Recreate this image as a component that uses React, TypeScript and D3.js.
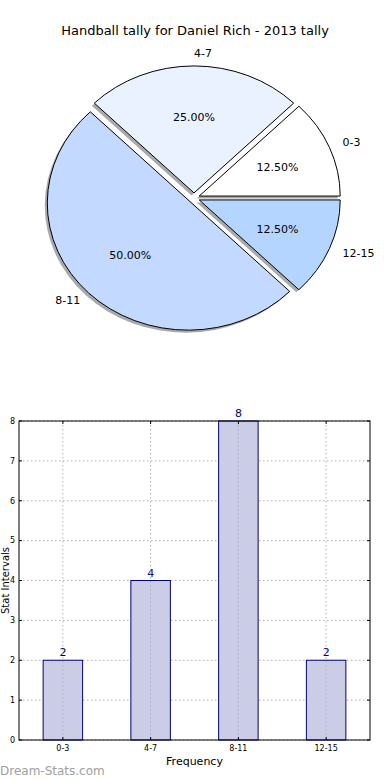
import React from 'react';
import * as d3 from 'd3';

// tally data
const categories = ['0-3', '4-7', '8-11', '12-15'];
const counts = [2, 4, 8, 2];
const sliceColors = ['#ffffff', '#ebf2ff', '#c4d9ff', '#b3d5ff'];
const yTicks = [0, 1, 2, 3, 4, 5, 6, 7, 8];

const W = 390;
const H = 780;
const font = 'DejaVu Sans, sans-serif';

// pie geometry (matplotlib style: starts at 3 o'clock, counter clockwise, elliptic)
const pieCx = 194;
const pieCy = 198;
const rx = 141;
const ry = 127;
const explode = 0.04;

function Pie() {
    const total = d3.sum(counts);
    const pie = d3.pie<number>()
        .sort(null)
        .startAngle(Math.PI / 2)
        .endAngle(Math.PI / 2 - 2 * Math.PI);
    const arcs = pie(counts);
    // unit circle arc, scaled to ellipse
    const arc = d3.arc<d3.PieArcDatum<number>>().innerRadius(0).outerRadius(1);

    return (
        <g>
            {arcs.map((a, i) => {
                const mid = (a.startAngle + a.endAngle) / 2;
                const ox = pieCx + explode * rx * Math.sin(mid);
                const oy = pieCy - explode * ry * Math.cos(mid);
                return (
                    <path
                        key={'s' + i}
                        d={arc(a) || ''}
                        transform={`translate(${ox - 2.5},${oy + 2.5}) scale(${rx},${ry})`}
                        fill="#555"
                        fillOpacity={0.5}
                    />
                );
            })}
            {arcs.map((a, i) => {
                const mid = (a.startAngle + a.endAngle) / 2;
                const ux = Math.sin(mid);
                const uy = -Math.cos(mid);
                const ox = pieCx + explode * rx * ux;
                const oy = pieCy + explode * ry * uy;
                const lx = ox + 1.1 * rx * ux;
                const ly = oy + 1.1 * ry * uy;
                const px = ox + 0.6 * rx * ux;
                const py = oy + 0.6 * ry * uy;
                const pct = (100 * counts[i] / total).toFixed(2) + '%';
                return (
                    <g key={'p' + i}>
                        <path
                            d={arc(a) || ''}
                            transform={`translate(${ox},${oy}) scale(${rx},${ry})`}
                            fill={sliceColors[i]}
                            stroke="#000"
                            strokeWidth={1}
                            vectorEffect="non-scaling-stroke"
                        />
                        <text x={lx} y={ly} dy="0.35em" fontSize={11}
                            textAnchor={ux > -1e-9 ? 'start' : 'end'}>
                            {categories[i]}
                        </text>
                        <text x={px} y={py} dy="0.35em" fontSize={11} textAnchor="middle">
                            {pct}
                        </text>
                    </g>
                );
            })}
        </g>
    );
}

function Bars() {
    const left = 19, right = 370, top = 421, bottom = 740;
    const x = d3.scaleLinear().domain([-0.5, categories.length - 0.5]).range([left, right]);
    const y = d3.scaleLinear().domain([0, 8]).range([bottom, top]);
    const barW = 0.45;
    const grid = '#b0b0b0';

    return (
        <g>
            {/* grid */}
            {yTicks.map(t => (
                <line key={'gy' + t} x1={left} x2={right} y1={y(t)} y2={y(t)}
                    stroke={grid} strokeDasharray="1.5,2.5" />
            ))}
            {/* bars */}
            {counts.map((v, i) => (
                <g key={'b' + i}>
                    <rect x={x(i - barW / 2)} y={y(v)} width={x(barW) - x(0)} height={y(0) - y(v)}
                        fill="#cbcde6" stroke="#000080" strokeWidth={1} />
                    <text x={x(i)} y={y(v) - 4} textAnchor="middle" fontSize={11} fill="#000080">{v}</text>
                </g>
            ))}
            {/* vertical grid sits on top of the bars */}
            {categories.map((c, i) => (
                <line key={'gx' + c} x1={x(i)} x2={x(i)} y1={top} y2={bottom}
                    stroke={grid} strokeDasharray="1.5,2.5" />
            ))}
            {/* frame */}
            <rect x={left} y={top} width={right - left} height={bottom - top} fill="none" stroke="#000" strokeWidth={1} />
            {/* ticks */}
            {yTicks.map(t => (
                <g key={'ty' + t}>
                    <line x1={left} x2={left + 3} y1={y(t)} y2={y(t)} stroke="#000" />
                    <line x1={right - 3} x2={right} y1={y(t)} y2={y(t)} stroke="#000" />
                    <text x={left - 4} y={y(t)} dy="0.35em" textAnchor="end" fontSize={8}>{t}</text>
                </g>
            ))}
            {categories.map((c, i) => (
                <g key={'tx' + c}>
                    <line x1={x(i)} x2={x(i)} y1={bottom} y2={bottom - 3} stroke="#000" />
                    <line x1={x(i)} x2={x(i)} y1={top} y2={top + 3} stroke="#000" />
                    <text x={x(i)} y={bottom + 11} textAnchor="middle" fontSize={8}>{c}</text>
                </g>
            ))}
            <text x={(left + right) / 2} y={765} textAnchor="middle" fontSize={11}>Frequency</text>
            <text transform={`translate(9,${(top + bottom) / 2}) rotate(-90)`} textAnchor="middle" fontSize={10}>Stat Intervals</text>
        </g>
    );
}

export default function App() {
    return (
        <svg width={W} height={H} viewBox={`0 0 ${W} ${H}`}
            style={{ position: 'absolute', left: 0, top: 0, background: '#fff' }}
            fontFamily={font}>
            <rect width={W} height={H} fill="#fff" />
            <text x={195} y={30} dy="0.35em" textAnchor="middle" fontSize={13}>
                Handball tally for Daniel Rich - 2013 tally
            </text>
            <Pie />
            <Bars />
            <text x={0} y={775} fontSize={12} fill="#a0a0a0">Dream-Stats.com</text>
        </svg>
    );
}
